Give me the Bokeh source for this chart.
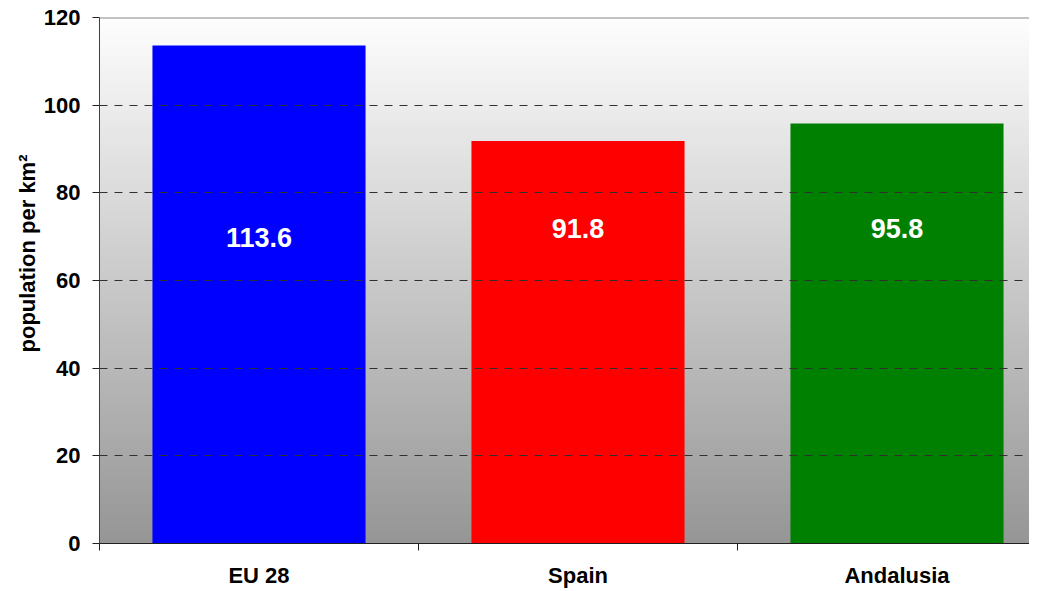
import numpy as np
from bokeh.plotting import figure
from bokeh.models import (Range1d, LinearAxis, FixedTicker, Span, Title, Grid,
                          ColumnDataSource)
from bokeh.embed import file_html
from bokeh.resources import INLINE
from bokeh.core.properties import value

# ---- data ----
regions = ["EU 28", "Spain", "Andalusia"]
density = [113.6, 91.8, 95.8]
bar_colors = ["#0000FF", "#FF0000", "#008000"]
y_ticks = [0, 20, 40, 60, 80, 100, 120]

# label vertical placement (layout, in axis units)
label_y = [69.8, 71.9, 71.9]

FONT = "Liberation Sans"
FRAME_W = 1029 - 99
x_end = FRAME_W / 319

p = figure(width=1029, height=590, output_backend="svg", toolbar_location=None,
           x_range=Range1d(0, x_end), y_range=Range1d(0, 120),
           x_axis_type=None, y_axis_type=None,
           min_border_left=99, min_border_top=17, min_border_right=0,
           min_border_bottom=47)
p.outline_line_color = None
p.background_fill_color = "white"
p.border_fill_color = "white"

# gradient background (white at top -> gray at bottom)
n = 256
col = np.linspace(150, 254, n).astype(np.uint32)  # row 0 = bottom
img = np.empty((n, 1), dtype=np.uint32)
view = img.view(dtype=np.uint8).reshape((n, 1, 4))
view[:, 0, 0] = col
view[:, 0, 1] = col
view[:, 0, 2] = col
view[:, 0, 3] = 255
bg = p.image_rgba(image=[img], x=0, y=0, dw=x_end, dh=120)
bg.level = "underlay"

# axes
yaxis = LinearAxis(ticker=FixedTicker(ticks=y_ticks))
yaxis.axis_line_color = "#404040"
yaxis.axis_line_width = 1
yaxis.major_tick_out = 7
yaxis.major_tick_in = 0
yaxis.major_tick_line_color = "#202020"
yaxis.minor_tick_line_color = None
yaxis.major_label_text_font = FONT
yaxis.major_label_text_font_style = "bold"
yaxis.major_label_text_font_size = "22px"
yaxis.major_label_text_color = "black"
yaxis.major_label_standoff = 12
p.add_layout(yaxis, "left")

p.add_layout(Title(text="population per km²", align="left", offset=191,
                   text_font=FONT, text_font_style="bold", text_font_size="22px",
                   text_color="black", standoff=2), "left")

centers = [i + 0.5 for i in range(len(regions))]
xaxis = LinearAxis(ticker=FixedTicker(ticks=centers,
                                      minor_ticks=list(range(len(regions) + 1))))
xaxis.major_label_overrides = {c: r for c, r in zip(centers, regions)}
xaxis.axis_line_color = "#202020"
xaxis.major_tick_line_color = None
xaxis.major_tick_out = 0
xaxis.major_tick_in = 0
xaxis.minor_tick_line_color = "#202020"
xaxis.minor_tick_out = 7
xaxis.minor_tick_in = 0
xaxis.major_label_text_font = FONT
xaxis.major_label_text_font_style = "bold"
xaxis.major_label_text_font_size = "22px"
xaxis.major_label_text_color = "black"
xaxis.major_label_standoff = 12
p.add_layout(xaxis, "below")

# grid
grid = Grid(dimension=1, ticker=FixedTicker(ticks=[t for t in y_ticks if 0 < t < 120]))
grid.grid_line_color = "#303030"
grid.grid_line_dash = "8 7"
grid.grid_line_width = 1
grid.level = "glyph"
p.add_layout(grid)

# top border
p.add_layout(Span(location=120, dimension="width", line_color="#888888",
                  line_width=2))

src = ColumnDataSource(dict(x=centers, top=density, color=bar_colors,
                            label=[f"{v:.1f}" for v in density], ly=label_y))
p.vbar(x="x", top="top", bottom=0, width=0.668, color="color",
       line_color=None, source=src)
p.text(x="x", y="ly", text="label", source=src, text_color="white",
       text_font=value(FONT), text_font_style="bold", text_font_size="27px",
       text_align="center", text_baseline="middle")

open("out.html", "w").write(file_html(p, INLINE))
